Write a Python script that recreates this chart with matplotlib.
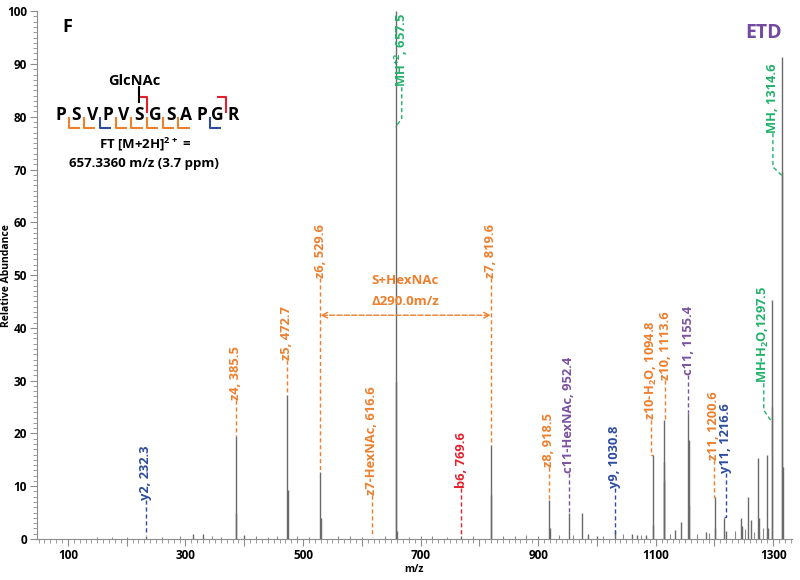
import numpy as np
import matplotlib
matplotlib.use("Agg")
import matplotlib.pyplot as plt
from matplotlib.ticker import MultipleLocator, FuncFormatter

plt.rcParams['font.family'] = ['Open Sans', 'DejaVu Sans']
plt.rcParams['font.weight'] = 'bold'
plt.rcParams['mathtext.fontset'] = 'custom'
plt.rcParams['mathtext.rm'] = 'Open Sans:bold'
plt.rcParams['mathtext.bf'] = 'Open Sans:bold'

#====== spectrum peaks (m/z, relative abundance) ======
peak_mz = [232.3, 312.0, 329.0, 385.5, 386.5, 400.0, 472.7, 473.7, 529.6, 530.6,
           657.5, 658.2, 659.5, 769.6, 819.6, 820.6, 918.5, 919.5, 952.4, 975.0,
           985.0, 1000.0, 1030.8, 1060.0, 1068.0, 1083.0, 1094.8, 1095.8, 1113.6, 1114.2,
           1114.8, 1133.0, 1143.0, 1155.4, 1156.0, 1156.6, 1185.0, 1200.6, 1201.6, 1216.6,
           1220.0, 1245.0, 1247.0, 1257.0, 1263.0, 1274.0, 1276.0, 1289.0, 1291.0, 1297.5,
           1298.5, 1314.6, 1315.6, 1316.6]
peak_int = [0.6, 1.0, 1.0, 19.5, 5.0, 0.8, 27.3, 9.3, 12.7, 4.0,
            100.0, 29.7, 1.5, 0.5, 17.8, 8.3, 7.4, 2.0, 5.0, 5.0,
            1.0, 0.6, 1.5, 1.0, 0.7, 0.7, 15.9, 2.6, 22.5, 14.6,
            11.0, 1.7, 3.2, 23.8, 18.8, 6.4, 1.3, 8.0, 2.0, 4.0,
            1.5, 4.0, 2.5, 8.0, 3.6, 15.3, 4.0, 15.9, 2.0, 45.3,
            25.0, 91.3, 69.5, 13.6]

# small baseline peaks
noise_mz = [150, 175, 200, 260, 290, 345, 360, 420, 440, 455, 490, 510, 560, 580, 600,
            640, 680, 700, 720, 745, 790, 840, 860, 880, 900, 935, 960, 1010, 1045, 1075,
            1125, 1170, 1190, 1235, 1252, 1268, 1282]
noise_int = [0.3, 0.4, 0.3, 0.4, 0.5, 0.6, 0.4, 0.5, 0.4, 0.6, 0.5, 0.4, 0.5, 0.6, 0.4,
             0.5, 0.4, 0.6, 0.5, 0.4, 0.5, 0.6, 0.5, 0.7, 0.6, 0.8, 0.7, 0.6, 0.9, 0.8,
             0.9, 1.0, 1.2, 1.5, 1.8, 1.4, 2.0]

#====== fragment labels ======
lab_text = ["y2, 232.3", "z4, 385.5", "z5, 472.7", "z6, 529.6", "z7-HexNAc, 616.6",
            "MH$^{+2}$, 657.5", "b6, 769.6", "z7, 819.6", "z8, 918.5", "c11-HexNAc, 952.4",
            "y9, 1030.8", "z10-H$_{2}$O, 1094.8", "z10, 1113.6", "c11, 1155.4", "z11, 1200.6",
            "y11, 1216.6", "MH-H$_{2}$O,1297.5", "MH, 1314.6"]
lab_peak = [232.3, 385.5, 472.7, 529.6, 616.6, 657.5, 769.6, 819.6, 918.5, 952.4,
            1030.8, 1094.8, 1113.6, 1155.4, 1200.6, 1216.6, 1297.5, 1314.6]
lab_x = [232.3, 385.5, 472.7, 529.6, 616.6, 668.0, 769.6, 819.6, 918.5, 952.4,
         1030.8, 1092.5, 1116.0, 1155.4, 1198.5, 1219.0, 1284.0, 1299.5]
lab_bottom = [7.4, 26.3, 33.9, 49.4, 8.3, 85.6, 9.7, 49.4, 13.6, 12.5,
              9.7, 22.5, 30.1, 31.0, 15.0, 12.5, 29.5, 76.9]
lab_knee = [0.8, 19.5, 27.3, 12.7, 0.3, 79.7, 0.5, 17.8, 7.4, 5.1,
            0.4, 15.9, 22.5, 23.8, 8.0, 4.2, 24.4, 70.5]
lab_end = [0.8, 19.5, 27.3, 12.7, 0.3, 78.0, 0.5, 17.8, 7.4, 5.1,
           0.4, 15.9, 22.5, 23.8, 8.0, 4.2, 22.2, 68.9]
lab_kind = ['y', 'z', 'z', 'z', 'z', 'M', 'b', 'z', 'z', 'c',
            'y', 'z', 'z', 'c', 'z', 'y', 'M', 'M']

colors = {'z': '#EE7F2D', 'y': '#2E4C9E', 'c': '#7A52A3', 'M': '#22B26A', 'b': '#E5202E'}

#====== peptide sequence ======
sequence = list("PSVPVSGSAPGR")
z_cuts = [1, 2, 4, 5, 6, 7, 8]   # cleavage after residue index (orange)
y_cuts = [3, 10]                  # blue
b_cuts = [6, 11]                  # red

fig = plt.figure(figsize=(8, 5.8), dpi=100)
ax = fig.add_axes([0.046, 0.0707, 0.944, 0.910])

ax.vlines(noise_mz, 0, noise_int, color='#8a8a8a', lw=0.8)
ax.vlines(peak_mz, 0, peak_int, color='#6a6a6a', lw=1.0)

for t, pk, lx, bt, kn, en, k in zip(lab_text, lab_peak, lab_x, lab_bottom, lab_knee, lab_end, lab_kind):
    c = colors[k]
    ax.plot([lx, lx, pk], [bt, kn, en], ls=(0, (3, 2)), color=c, lw=1.0)
    ax.text(lx, bt, t, rotation=90, ha='center', va='bottom', color=c,
            fontsize=9.3, fontweight='bold')

# S+HexNAc shift
ax.annotate('', xy=(529.6, 42.4), xytext=(819.6, 42.4),
            arrowprops=dict(arrowstyle='<->', ls='--', color=colors['z'], lw=1.0,
                            shrinkA=0, shrinkB=0))
ax.text(674, 49.0, "S+HexNAc", ha='center', va='center', color=colors['z'], fontsize=9.5)
ax.text(674, 45.0, "\u0394290.0m/z", ha='center', va='center', color=colors['z'], fontsize=9.5)

# sequence with fragment brackets
x0, dx, ys = 87.8, 26.7, 80.3
for i, aa in enumerate(sequence):
    ax.text(x0 + i * dx, ys, aa, ha='center', va='center', fontsize=12.5, fontweight='bold')
for cut in z_cuts + y_cuts:
    col = colors['z'] if cut in z_cuts else colors['y']
    xb = x0 + (cut - 0.5) * dx
    ax.plot([xb, xb, xb + 19], [79.9, 77.8, 77.8], color=col, lw=1.5, solid_capstyle='butt')
for cut in b_cuts:
    xb = x0 + (cut - 0.5) * dx
    ax.plot([xb - 15, xb, xb], [83.8, 83.8, 80.8], color=colors['b'], lw=1.5, solid_capstyle='butt')
ax.plot([x0 + 5 * dx, x0 + 5 * dx], [85.6, 82.8], color='black', lw=1.5)
ax.text(x0 + 5 * dx - 8, 86.8, "GlcNAc", ha='center', va='center', fontsize=10.5)
ax.text(x0 + 5 * dx + 10, 74.8, "FT [M+2H]$^{2+}$ =", ha='center', va='center', fontsize=9.5)
ax.text(x0 + 5 * dx + 8, 71.2, "657.3360 m/z (3.7 ppm)", ha='center', va='center', fontsize=9.5)

ax.text(99.7, 97, "F", ha='center', va='center', fontsize=13, fontweight='bold')
ax.text(1284, 95.8, "ETD", ha='center', va='center', fontsize=14, fontweight='bold', color='#7449A0')

ax.set_xlim(47, 1332)
ax.set_ylim(0, 100)
for s in ['top', 'right']:
    ax.spines[s].set_visible(False)
for s in ['left', 'bottom']:
    ax.spines[s].set_color('#8c8c8c')

ax.xaxis.set_major_locator(MultipleLocator(100))
ax.xaxis.set_minor_locator(MultipleLocator(10))
ax.xaxis.set_major_formatter(FuncFormatter(lambda v, p: "%d" % v if int(round(v)) % 200 == 100 else ""))
ax.yaxis.set_major_locator(MultipleLocator(10))
ax.yaxis.set_minor_locator(MultipleLocator(1))
ax.tick_params(which='both', colors='#8c8c8c', labelcolor='black', labelsize=8.5, pad=2)
ax.tick_params(which='major', length=5)
ax.tick_params(which='minor', length=3)
for lbl in ax.get_xticklabels() + ax.get_yticklabels():
    lbl.set_fontweight('bold')

ax.set_xlabel("m/z", fontsize=7.5, fontweight='bold', labelpad=2)
ax.set_ylabel("Relative Abundance", fontsize=7.5, fontweight='bold')
ax.yaxis.set_label_coords(-0.033, 0.5)

plt.savefig("out.png", dpi=100)
